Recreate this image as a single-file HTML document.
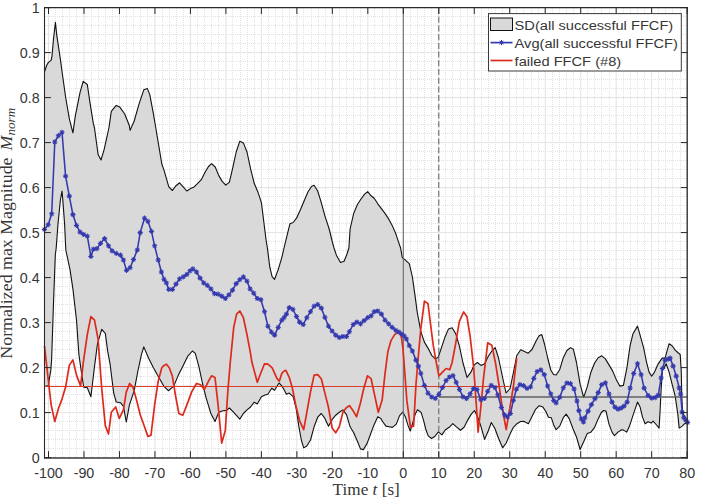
<!DOCTYPE html><html><head><meta charset="utf-8"><style>
html,body{margin:0;padding:0;background:#fff;width:709px;height:499px;overflow:hidden}
svg{display:block}
text{font-family:"Liberation Sans",sans-serif;fill:#363636}
.serif{font-family:"Liberation Serif",serif}
</style></head><body>
<svg width="709" height="499" viewBox="0 0 709 499">
<rect x="0" y="0" width="709" height="499" fill="#fff"/>
<path d="M55.50 8V457.6M62.50 8V457.6M69.50 8V457.6M76.50 8V457.6M91.50 8V457.6M98.50 8V457.6M105.50 8V457.6M112.50 8V457.6M126.50 8V457.6M133.50 8V457.6M140.50 8V457.6M147.50 8V457.6M162.50 8V457.6M169.50 8V457.6M176.50 8V457.6M183.50 8V457.6M197.50 8V457.6M204.50 8V457.6M211.50 8V457.6M218.50 8V457.6M232.50 8V457.6M240.50 8V457.6M247.50 8V457.6M254.50 8V457.6M268.50 8V457.6M275.50 8V457.6M282.50 8V457.6M289.50 8V457.6M303.50 8V457.6M311.50 8V457.6M318.50 8V457.6M325.50 8V457.6M339.50 8V457.6M346.50 8V457.6M353.50 8V457.6M360.50 8V457.6M374.50 8V457.6M382.50 8V457.6M389.50 8V457.6M396.50 8V457.6M410.50 8V457.6M417.50 8V457.6M424.50 8V457.6M431.50 8V457.6M445.50 8V457.6M452.50 8V457.6M460.50 8V457.6M467.50 8V457.6M481.50 8V457.6M488.50 8V457.6M495.50 8V457.6M502.50 8V457.6M516.50 8V457.6M523.50 8V457.6M531.50 8V457.6M538.50 8V457.6M552.50 8V457.6M559.50 8V457.6M566.50 8V457.6M573.50 8V457.6M587.50 8V457.6M594.50 8V457.6M601.50 8V457.6M609.50 8V457.6M623.50 8V457.6M630.50 8V457.6M637.50 8V457.6M644.50 8V457.6M658.50 8V457.6M665.50 8V457.6M672.50 8V457.6M680.50 8V457.6M45 448.50H687.2M45 439.50H687.2M45 430.50H687.2M45 421.50H687.2M45 403.50H687.2M45 394.50H687.2M45 385.50H687.2M45 376.50H687.2M45 358.50H687.2M45 349.50H687.2M45 340.50H687.2M45 331.50H687.2M45 313.50H687.2M45 304.50H687.2M45 295.50H687.2M45 286.50H687.2M45 268.50H687.2M45 259.50H687.2M45 250.50H687.2M45 241.50H687.2M45 223.50H687.2M45 214.50H687.2M45 205.50H687.2M45 196.50H687.2M45 178.50H687.2M45 169.50H687.2M45 160.50H687.2M45 151.50H687.2M45 133.50H687.2M45 124.50H687.2M45 115.50H687.2M45 106.50H687.2M45 88.50H687.2M45 79.50H687.2M45 70.50H687.2M45 61.50H687.2M45 43.50H687.2M45 34.50H687.2M45 25.50H687.2M45 16.50H687.2" stroke="#e2e2e2" stroke-width="1" stroke-dasharray="1 1" fill="none"/>
<path d="M48.50 7.6V457.6M83.98 7.6V457.6M119.46 7.6V457.6M154.94 7.6V457.6M190.42 7.6V457.6M225.90 7.6V457.6M261.38 7.6V457.6M296.86 7.6V457.6M332.34 7.6V457.6M367.82 7.6V457.6M403.30 7.6V457.6M438.78 7.6V457.6M474.26 7.6V457.6M509.74 7.6V457.6M545.22 7.6V457.6M580.70 7.6V457.6M616.18 7.6V457.6M651.66 7.6V457.6M687.14 7.6V457.6M44.5 457.60H687.2M44.5 412.60H687.2M44.5 367.60H687.2M44.5 322.60H687.2M44.5 277.60H687.2M44.5 232.60H687.2M44.5 187.60H687.2M44.5 142.60H687.2M44.5 97.60H687.2M44.5 52.60H687.2M44.5 7.60H687.2" stroke="#e3e3e3" stroke-width="1" fill="none"/>
<polygon points="44.6,71.5 46.6,65.5 48.4,62.4 51.1,60.4 52.0,55.8 53.5,39.0 55.4,22.4 56.8,35.4 58.6,47.4 60.4,59.4 62.2,72.7 65.6,97.0 69.3,118.6 72.9,132.8 75.3,116.2 80.1,92.2 83.2,81.4 87.3,84.5 90.2,104.2 93.3,123.4 94.5,128.0 98.1,154.5 101.0,160.0 104.1,149.6 108.9,128.0 111.3,111.4 116.2,105.4 119.8,107.1 124.6,113.8 129.4,125.8 130.1,130.4 134.2,121.0 139.0,104.2 143.8,89.8 147.4,88.6 149.8,94.6 153.4,113.8 155.8,128.0 159.0,147.2 161.8,164.0 164.0,170.1 168.8,186.9 172.4,190.5 176.0,185.7 179.6,182.8 183.2,186.9 186.8,191.0 190.5,188.6 194.1,186.9 197.7,183.3 201.3,179.7 204.9,172.5 208.5,166.5 211.6,163.6 215.2,167.0 218.8,175.6 222.2,181.4 225.8,185.2 229.4,182.1 232.5,168.9 236.2,152.0 239.8,141.2 243.4,142.9 247.0,152.0 250.6,168.9 254.2,183.3 257.8,191.7 261.4,202.6 263.8,221.8 266.2,241.0 267.4,248.0 269.8,267.2 272.2,276.9 274.6,279.3 278.2,269.6 281.8,257.6 284.0,248.0 286.9,236.2 290.0,223.7 293.1,222.5 296.5,218.2 300.4,209.8 304.4,200.2 308.0,191.7 311.7,186.2 314.1,185.2 317.7,191.0 321.3,202.6 324.9,215.8 329.2,229.0 332.1,241.0 334.0,248.0 336.4,255.2 340.5,262.4 344.1,261.2 347.0,254.0 348.9,248.0 350.1,229.0 353.7,213.4 357.4,204.5 361.0,199.0 364.6,194.1 367.7,191.7 371.1,195.8 374.2,198.2 377.8,203.8 381.4,208.6 385.0,213.4 388.6,218.9 392.2,225.4 395.8,233.8 399.0,243.4 400.6,248.0 402.3,257.6 404.0,258.9 409.3,263.7 412.4,277.0 414.8,293.8 417.2,312.0 420.8,331.3 424.4,342.1 428.0,348.1 431.7,355.3 435.3,358.9 438.2,357.2 441.3,348.1 444.9,337.3 448.5,328.9 452.1,327.7 455.7,333.7 459.3,345.7 462.9,362.5 467.0,377.4 470.9,372.2 474.2,364.9 477.4,362.5 481.0,365.4 484.6,363.7 488.2,356.5 491.8,351.0 495.2,347.6 498.4,357.5 502.4,376.5 506.0,393.0 510.1,388.5 513.4,372.5 516.8,355.5 520.7,349.8 524.5,351.5 528.2,353.2 532.0,349.5 535.8,341.5 539.1,335.8 541.8,334.6 544.5,344.0 547.8,358.5 550.8,370.0 553.5,374.5 556.1,375.0 559.7,369.7 563.3,357.7 566.9,350.5 570.5,347.6 573.4,349.3 576.5,362.5 580.1,384.2 583.7,397.4 587.3,386.6 590.9,372.2 594.6,363.0 598.2,357.7 601.8,355.8 605.4,358.9 609.0,364.9 612.6,370.9 616.2,379.4 619.8,386.1 623.4,385.4 627.0,367.3 630.1,345.7 633.0,333.7 637.5,326.1 640.1,335.1 643.7,348.1 646.5,362.1 649.1,372.1 651.7,376.2 654.5,372.1 658.1,364.1 662.1,358.1 665.1,358.1 666.7,352.1 669.1,343.7 672.1,345.7 675.2,350.1 677.8,352.5 680.2,354.5 681.2,370.1 681.8,396.0 682.5,412.0 687.2,422.5 687.2,422.5 684.2,424.1 682.2,426.1 679.2,428.1 677.8,414.1 675.2,396.1 672.1,384.2 669.1,372.1 666.1,363.7 664.1,368.1 662.5,370.0 661.1,390.0 660.1,410.1 659.1,428.1 656.1,424.5 653.1,421.1 651.1,423.1 648.1,421.7 645.1,423.7 642.5,417.1 640.1,407.1 637.5,402.1 635.1,409.1 632.1,418.1 629.1,427.1 626.7,432.1 623.6,430.1 621.6,429.7 618.0,432.1 614.4,435.7 612.0,432.1 609.0,424.1 606.0,411.1 603.5,410.5 601.0,413.0 598.2,418.9 594.6,427.3 590.9,432.2 587.3,433.4 583.7,441.8 580.1,449.5 576.5,437.0 572.9,428.5 569.3,418.9 566.2,414.1 563.3,417.7 559.7,426.1 556.1,429.7 553.7,424.9 551.3,417.7 548.4,417.2 546.0,411.7 542.8,406.9 539.2,405.7 535.6,409.3 532.0,416.5 528.4,423.7 523.6,421.3 520.6,421.5 517.0,423.7 513.4,427.3 509.8,434.6 506.2,443.0 502.6,447.8 498.5,438.2 494.9,428.5 491.3,422.5 488.2,431.0 484.6,439.4 480.5,424.9 477.4,416.5 474.5,410.5 471.3,414.1 467.7,420.1 464.1,427.3 460.5,430.2 456.4,426.9 452.8,423.7 449.2,427.3 445.2,430.0 441.9,434.9 438.4,431.9 434.8,436.5 431.5,438.5 428.2,435.9 425.6,428.7 423.7,420.9 421.1,412.4 417.5,409.8 415.2,414.3 412.6,423.5 410.2,431.0 408.0,425.4 405.4,416.9 402.8,412.1 399.6,415.6 396.3,424.1 392.4,427.4 389.1,426.7 385.9,426.1 382.6,421.5 380.7,418.4 377.8,416.7 374.2,424.4 370.6,434.0 367.0,443.6 363.4,449.6 360.5,448.9 357.4,441.2 353.7,432.8 350.1,426.8 346.5,414.7 342.9,409.9 339.3,412.3 335.7,415.2 332.1,419.6 328.5,426.3 324.9,418.4 321.3,413.5 317.7,417.2 314.1,426.8 310.5,440.0 306.8,446.0 303.7,447.9 301.3,440.0 298.9,426.8 296.0,407.5 293.1,396.7 289.3,393.1 286.4,394.3 284.0,389.5 281.8,385.9 279.0,383.0 274.6,390.2 271.7,388.3 267.9,394.3 265.0,395.0 261.4,396.7 257.3,403.9 254.2,402.2 250.6,407.0 247.0,409.9 243.4,413.5 239.8,419.1 233.7,412.3 229.4,408.0 226.5,410.4 222.9,410.7 218.8,412.3 215.0,421.5 210.9,413.5 206.1,397.9 202.5,383.5 198.9,366.6 195.3,353.4 192.4,351.0 188.0,355.8 183.2,365.4 178.4,375.1 173.6,386.4 168.3,390.7 164.0,386.4 158.2,376.3 153.4,367.8 148.6,358.2 143.8,346.9 141.4,354.6 137.8,371.5 134.2,390.7 129.4,405.1 126.3,422.0 123.4,406.3 120.5,402.7 116.2,402.0 113.7,393.1 110.1,364.2 107.7,351.4 105.3,333.4 101.7,329.3 97.4,344.2 94.5,366.6 90.9,396.7 87.3,387.8 83.7,387.1 81.3,371.5 78.9,354.6 76.5,320.0 72.9,288.9 70.0,269.6 65.8,250.0 64.6,224.0 62.8,200.0 62.0,191.0 60.4,200.0 58.0,224.0 56.2,248.0 55.3,255.0 53.6,300.0 51.6,360.0 50.8,370.4 49.2,380.0 48.4,385.6 44.6,386.5" fill="#d9d9d9" stroke="none"/>
<polyline points="44.6,71.5 46.6,65.5 48.4,62.4 51.1,60.4 52.0,55.8 53.5,39.0 55.4,22.4 56.8,35.4 58.6,47.4 60.4,59.4 62.2,72.7 65.6,97.0 69.3,118.6 72.9,132.8 75.3,116.2 80.1,92.2 83.2,81.4 87.3,84.5 90.2,104.2 93.3,123.4 94.5,128.0 98.1,154.5 101.0,160.0 104.1,149.6 108.9,128.0 111.3,111.4 116.2,105.4 119.8,107.1 124.6,113.8 129.4,125.8 130.1,130.4 134.2,121.0 139.0,104.2 143.8,89.8 147.4,88.6 149.8,94.6 153.4,113.8 155.8,128.0 159.0,147.2 161.8,164.0 164.0,170.1 168.8,186.9 172.4,190.5 176.0,185.7 179.6,182.8 183.2,186.9 186.8,191.0 190.5,188.6 194.1,186.9 197.7,183.3 201.3,179.7 204.9,172.5 208.5,166.5 211.6,163.6 215.2,167.0 218.8,175.6 222.2,181.4 225.8,185.2 229.4,182.1 232.5,168.9 236.2,152.0 239.8,141.2 243.4,142.9 247.0,152.0 250.6,168.9 254.2,183.3 257.8,191.7 261.4,202.6 263.8,221.8 266.2,241.0 267.4,248.0 269.8,267.2 272.2,276.9 274.6,279.3 278.2,269.6 281.8,257.6 284.0,248.0 286.9,236.2 290.0,223.7 293.1,222.5 296.5,218.2 300.4,209.8 304.4,200.2 308.0,191.7 311.7,186.2 314.1,185.2 317.7,191.0 321.3,202.6 324.9,215.8 329.2,229.0 332.1,241.0 334.0,248.0 336.4,255.2 340.5,262.4 344.1,261.2 347.0,254.0 348.9,248.0 350.1,229.0 353.7,213.4 357.4,204.5 361.0,199.0 364.6,194.1 367.7,191.7 371.1,195.8 374.2,198.2 377.8,203.8 381.4,208.6 385.0,213.4 388.6,218.9 392.2,225.4 395.8,233.8 399.0,243.4 400.6,248.0 402.3,257.6 404.0,258.9 409.3,263.7 412.4,277.0 414.8,293.8 417.2,312.0 420.8,331.3 424.4,342.1 428.0,348.1 431.7,355.3 435.3,358.9 438.2,357.2 441.3,348.1 444.9,337.3 448.5,328.9 452.1,327.7 455.7,333.7 459.3,345.7 462.9,362.5 467.0,377.4 470.9,372.2 474.2,364.9 477.4,362.5 481.0,365.4 484.6,363.7 488.2,356.5 491.8,351.0 495.2,347.6 498.4,357.5 502.4,376.5 506.0,393.0 510.1,388.5 513.4,372.5 516.8,355.5 520.7,349.8 524.5,351.5 528.2,353.2 532.0,349.5 535.8,341.5 539.1,335.8 541.8,334.6 544.5,344.0 547.8,358.5 550.8,370.0 553.5,374.5 556.1,375.0 559.7,369.7 563.3,357.7 566.9,350.5 570.5,347.6 573.4,349.3 576.5,362.5 580.1,384.2 583.7,397.4 587.3,386.6 590.9,372.2 594.6,363.0 598.2,357.7 601.8,355.8 605.4,358.9 609.0,364.9 612.6,370.9 616.2,379.4 619.8,386.1 623.4,385.4 627.0,367.3 630.1,345.7 633.0,333.7 637.5,326.1 640.1,335.1 643.7,348.1 646.5,362.1 649.1,372.1 651.7,376.2 654.5,372.1 658.1,364.1 662.1,358.1 665.1,358.1 666.7,352.1 669.1,343.7 672.1,345.7 675.2,350.1 677.8,352.5 680.2,354.5 681.2,370.1 681.8,396.0 682.5,412.0 687.2,422.5" fill="none" stroke="#111" stroke-width="1.1" stroke-linejoin="round"/>
<polyline points="44.6,386.5 48.4,385.6 49.2,380.0 50.8,370.4 51.6,360.0 53.6,300.0 55.3,255.0 56.2,248.0 58.0,224.0 60.4,200.0 62.0,191.0 62.8,200.0 64.6,224.0 65.8,250.0 70.0,269.6 72.9,288.9 76.5,320.0 78.9,354.6 81.3,371.5 83.7,387.1 87.3,387.8 90.9,396.7 94.5,366.6 97.4,344.2 101.7,329.3 105.3,333.4 107.7,351.4 110.1,364.2 113.7,393.1 116.2,402.0 120.5,402.7 123.4,406.3 126.3,422.0 129.4,405.1 134.2,390.7 137.8,371.5 141.4,354.6 143.8,346.9 148.6,358.2 153.4,367.8 158.2,376.3 164.0,386.4 168.3,390.7 173.6,386.4 178.4,375.1 183.2,365.4 188.0,355.8 192.4,351.0 195.3,353.4 198.9,366.6 202.5,383.5 206.1,397.9 210.9,413.5 215.0,421.5 218.8,412.3 222.9,410.7 226.5,410.4 229.4,408.0 233.7,412.3 239.8,419.1 243.4,413.5 247.0,409.9 250.6,407.0 254.2,402.2 257.3,403.9 261.4,396.7 265.0,395.0 267.9,394.3 271.7,388.3 274.6,390.2 279.0,383.0 281.8,385.9 284.0,389.5 286.4,394.3 289.3,393.1 293.1,396.7 296.0,407.5 298.9,426.8 301.3,440.0 303.7,447.9 306.8,446.0 310.5,440.0 314.1,426.8 317.7,417.2 321.3,413.5 324.9,418.4 328.5,426.3 332.1,419.6 335.7,415.2 339.3,412.3 342.9,409.9 346.5,414.7 350.1,426.8 353.7,432.8 357.4,441.2 360.5,448.9 363.4,449.6 367.0,443.6 370.6,434.0 374.2,424.4 377.8,416.7 380.7,418.4 382.6,421.5 385.9,426.1 389.1,426.7 392.4,427.4 396.3,424.1 399.6,415.6 402.8,412.1 405.4,416.9 408.0,425.4 410.2,431.0 412.6,423.5 415.2,414.3 417.5,409.8 421.1,412.4 423.7,420.9 425.6,428.7 428.2,435.9 431.5,438.5 434.8,436.5 438.4,431.9 441.9,434.9 445.2,430.0 449.2,427.3 452.8,423.7 456.4,426.9 460.5,430.2 464.1,427.3 467.7,420.1 471.3,414.1 474.5,410.5 477.4,416.5 480.5,424.9 484.6,439.4 488.2,431.0 491.3,422.5 494.9,428.5 498.5,438.2 502.6,447.8 506.2,443.0 509.8,434.6 513.4,427.3 517.0,423.7 520.6,421.5 523.6,421.3 528.4,423.7 532.0,416.5 535.6,409.3 539.2,405.7 542.8,406.9 546.0,411.7 548.4,417.2 551.3,417.7 553.7,424.9 556.1,429.7 559.7,426.1 563.3,417.7 566.2,414.1 569.3,418.9 572.9,428.5 576.5,437.0 580.1,449.5 583.7,441.8 587.3,433.4 590.9,432.2 594.6,427.3 598.2,418.9 601.0,413.0 603.5,410.5 606.0,411.1 609.0,424.1 612.0,432.1 614.4,435.7 618.0,432.1 621.6,429.7 623.6,430.1 626.7,432.1 629.1,427.1 632.1,418.1 635.1,409.1 637.5,402.1 640.1,407.1 642.5,417.1 645.1,423.7 648.1,421.7 651.1,423.1 653.1,421.1 656.1,424.5 659.1,428.1 660.1,410.1 661.1,390.0 662.5,370.0 664.1,368.1 666.1,363.7 669.1,372.1 672.1,384.2 675.2,396.1 677.8,414.1 679.2,428.1 682.2,426.1 684.2,424.1 687.2,422.5" fill="none" stroke="#111" stroke-width="1.1" stroke-linejoin="round"/>
<line x1="403.30" y1="7.6" x2="403.30" y2="457.6" stroke="#6a6a6a" stroke-width="1.1"/>
<line x1="438.78" y1="8.1" x2="438.78" y2="457.6" stroke="#666" stroke-width="1.05" stroke-dasharray="6 2.7"/>
<line x1="44.95" y1="386.5" x2="509.74" y2="386.5" stroke="#dc3a2a" stroke-width="1.1"/>
<line x1="438.78" y1="397" x2="687.14" y2="397" stroke="#606060" stroke-width="1.6"/>
<polyline points="44.5,346.0 47.6,373.9 51.2,405.1 54.8,421.5 58.4,408.7 62.0,399.1 65.6,387.1 69.3,365.4 72.9,359.9 76.5,375.1 80.6,385.9 83.7,359.4 87.3,334.6 90.9,316.5 94.5,320.2 98.1,339.4 101.7,388.3 105.3,425.6 108.5,434.0 111.3,412.3 115.7,407.0 119.3,418.4 123.4,409.9 126.3,391.9 129.6,383.5 133.0,387.1 136.6,400.3 140.2,414.7 144.5,426.8 147.9,436.4 151.0,435.2 154.6,405.1 158.2,381.1 161.8,367.8 164.0,365.4 166.4,364.2 169.3,367.8 172.4,376.3 175.5,395.5 178.9,413.5 182.8,415.2 186.8,405.1 191.7,391.9 196.5,383.5 200.6,384.7 204.4,389.5 208.5,381.1 211.6,375.8 215.0,377.5 218.1,405.1 221.7,443.1 225.3,430.4 227.7,393.1 230.1,364.2 233.7,327.4 236.6,314.1 239.8,311.0 243.4,317.7 247.0,334.6 250.6,353.8 251.8,361.8 257.3,382.3 261.4,371.5 264.5,363.8 267.9,364.2 272.2,367.8 277.0,378.7 279.4,381.1 281.8,373.4 284.0,371.0 285.9,370.3 289.3,377.5 292.4,388.3 296.0,406.3 299.6,420.8 303.7,429.7 306.8,412.3 310.5,391.9 314.1,375.1 317.7,374.6 321.3,378.7 324.9,393.1 328.5,407.5 332.1,428.0 335.7,432.8 339.3,426.8 342.9,412.3 346.1,408.0 349.4,405.6 353.3,411.1 356.6,416.7 360.5,402.7 363.8,388.3 367.5,375.8 371.1,378.7 374.2,393.1 378.3,412.3 382.1,400.3 385.0,373.9 387.9,351.4 391.0,340.6 394.6,334.6 399.0,331.7 401.4,337.0 403.0,349.0 404.0,362.0 406.9,400.9 410.5,427.3 413.6,426.1 416.0,384.0 418.0,360.0 420.8,328.9 424.4,301.2 428.0,303.6 430.5,324.0 433.3,345.7 436.5,363.7 438.9,375.8 442.5,372.2 446.1,368.5 449.7,369.7 452.1,362.5 455.7,343.3 459.3,321.6 463.6,312.0 467.0,316.8 470.1,336.1 473.7,368.0 476.2,403.3 478.1,432.2 480.5,410.5 483.4,379.3 487.7,342.8 491.8,345.2 495.4,362.5 499.0,385.0 502.6,410.0 506.2,429.7 509.8,408.1 513.4,386.5 516.7,358.2" fill="none" stroke="#dc2a1c" stroke-width="1.7" stroke-linejoin="round"/>
<polyline points="44.4,229.4 48.2,224.7 51.7,213.8 54.8,142.0 58.4,135.7 62.0,132.3 65.6,176.1 69.3,196.1 72.9,214.6 76.5,225.4 80.1,232.1 83.7,234.5 87.3,236.2 90.9,256.4 93.3,249.2 96.9,248.7 100.5,243.4 104.6,238.6 108.5,245.8 112.1,250.9 116.2,253.3 120.5,255.2 123.4,260.0 126.5,270.4 130.1,267.7 133.5,259.5 137.3,249.9 140.2,232.6 144.5,218.2 147.9,221.3 151.5,231.4 154.6,245.8 158.2,260.0 161.4,272.0 164.0,279.3 166.4,282.9 168.8,289.4 172.4,289.4 176.0,284.1 179.6,278.8 183.2,276.9 186.8,274.5 190.0,270.8 192.9,268.9 196.5,272.0 200.1,278.1 203.7,282.9 207.3,285.3 210.9,288.9 214.5,293.7 218.1,294.2 221.7,296.1 225.3,298.5 228.9,294.9 232.5,290.1 236.2,283.6 239.8,279.7 243.4,276.9 247.0,281.2 250.1,288.9 253.7,293.2 257.3,298.5 260.9,299.7 264.5,311.7 267.9,326.2 271.5,332.2 274.6,335.1 278.2,327.4 281.8,320.2 284.0,317.7 286.4,314.1 289.3,307.6 292.9,309.3 296.5,316.5 299.6,322.1 303.2,324.5 306.8,317.7 310.5,311.7 314.1,306.2 317.7,304.5 321.3,308.1 324.9,317.3 328.5,326.2 332.1,331.0 335.7,335.1 339.3,337.5 342.9,336.5 346.5,336.5 349.4,331.7 353.3,324.5 356.9,322.1 360.5,323.8 364.1,320.6 367.7,317.7 371.1,315.8 374.2,311.7 377.8,311.0 381.4,314.1 385.0,320.2 388.6,323.8 392.2,327.4 395.8,330.3 399.0,332.2 401.8,334.1 404.0,335.8 406.4,339.0 409.3,345.7 412.4,351.0 416.0,360.1 418.4,366.1 420.8,373.3 424.4,385.4 428.0,393.2 431.7,397.0 435.3,398.3 438.9,394.5 442.5,387.5 446.1,380.5 449.5,377.0 453.0,375.7 456.2,382.3 459.5,389.5 463.0,396.8 466.5,398.5 470.1,393.8 473.5,388.5 477.0,389.5 480.8,399.7 484.4,398.5 487.7,391.3 491.2,385.3 494.9,387.5 497.8,394.8 501.4,407.5 504.5,414.8 507.4,417.0 510.4,413.5 513.4,400.3 516.4,389.2 519.9,384.7 523.5,385.6 527.0,388.4 530.5,386.9 533.8,378.4 537.2,371.5 540.8,369.9 544.3,374.6 547.6,386.0 550.8,393.8 553.7,400.5 556.1,402.9 559.7,397.4 563.3,387.8 566.9,383.0 570.5,383.7 574.1,389.0 577.0,401.0 578.9,410.6 581.3,419.0 583.5,422.0 584.9,417.8 588.1,411.1 591.4,404.6 595.0,398.6 598.2,392.6 601.8,384.6 605.4,382.8 609.0,394.0 612.0,402.1 615.0,407.1 618.0,409.1 621.0,408.1 624.0,406.1 627.1,402.1 630.1,388.0 633.7,373.5 637.5,363.7 641.1,374.7 644.1,388.1 648.1,395.5 651.7,398.1 655.1,397.7 658.3,395.1 661.1,378.0 662.5,368.5 665.1,360.1 668.1,359.1 670.1,358.1 673.1,366.1 676.2,376.1 679.2,388.0 680.6,394.0 682.2,412.1 683.8,417.7 685.8,420.1 687.6,422.5" fill="none" stroke="#3439ae" stroke-width="1.55" stroke-linejoin="round"/>
<path d="M41.8 229.4h5.2M44.4 226.8v5.2M42.6 227.6l3.6 3.6M42.6 231.2l3.6 -3.6M45.6 224.7h5.2M48.2 222.1v5.2M46.4 222.9l3.6 3.6M46.4 226.5l3.6 -3.6M49.1 213.8h5.2M51.7 211.2v5.2M49.9 212.0l3.6 3.6M49.9 215.6l3.6 -3.6M52.2 142.0h5.2M54.8 139.4v5.2M53.0 140.2l3.6 3.6M53.0 143.8l3.6 -3.6M55.8 135.7h5.2M58.4 133.1v5.2M56.6 133.9l3.6 3.6M56.6 137.5l3.6 -3.6M59.4 132.3h5.2M62.0 129.7v5.2M60.2 130.5l3.6 3.6M60.2 134.1l3.6 -3.6M63.0 176.1h5.2M65.6 173.5v5.2M63.8 174.3l3.6 3.6M63.8 177.9l3.6 -3.6M66.7 196.1h5.2M69.3 193.5v5.2M67.5 194.3l3.6 3.6M67.5 197.9l3.6 -3.6M70.3 214.6h5.2M72.9 212.0v5.2M71.1 212.8l3.6 3.6M71.1 216.4l3.6 -3.6M73.9 225.4h5.2M76.5 222.8v5.2M74.7 223.6l3.6 3.6M74.7 227.2l3.6 -3.6M77.5 232.1h5.2M80.1 229.5v5.2M78.3 230.3l3.6 3.6M78.3 233.9l3.6 -3.6M81.1 234.5h5.2M83.7 231.9v5.2M81.9 232.7l3.6 3.6M81.9 236.3l3.6 -3.6M84.7 236.2h5.2M87.3 233.6v5.2M85.5 234.4l3.6 3.6M85.5 238.0l3.6 -3.6M88.3 256.4h5.2M90.9 253.8v5.2M89.1 254.6l3.6 3.6M89.1 258.2l3.6 -3.6M90.7 249.2h5.2M93.3 246.6v5.2M91.5 247.4l3.6 3.6M91.5 251.0l3.6 -3.6M94.3 248.7h5.2M96.9 246.1v5.2M95.1 246.9l3.6 3.6M95.1 250.5l3.6 -3.6M97.9 243.4h5.2M100.5 240.8v5.2M98.7 241.6l3.6 3.6M98.7 245.2l3.6 -3.6M102.0 238.6h5.2M104.6 236.0v5.2M102.8 236.8l3.6 3.6M102.8 240.4l3.6 -3.6M105.9 245.8h5.2M108.5 243.2v5.2M106.7 244.0l3.6 3.6M106.7 247.6l3.6 -3.6M109.5 250.9h5.2M112.1 248.3v5.2M110.3 249.1l3.6 3.6M110.3 252.7l3.6 -3.6M113.6 253.3h5.2M116.2 250.7v5.2M114.4 251.5l3.6 3.6M114.4 255.1l3.6 -3.6M117.9 255.2h5.2M120.5 252.6v5.2M118.7 253.4l3.6 3.6M118.7 257.0l3.6 -3.6M120.8 260.0h5.2M123.4 257.4v5.2M121.6 258.2l3.6 3.6M121.6 261.8l3.6 -3.6M123.9 270.4h5.2M126.5 267.8v5.2M124.7 268.6l3.6 3.6M124.7 272.2l3.6 -3.6M127.5 267.7h5.2M130.1 265.1v5.2M128.3 265.9l3.6 3.6M128.3 269.5l3.6 -3.6M130.9 259.5h5.2M133.5 256.9v5.2M131.7 257.7l3.6 3.6M131.7 261.3l3.6 -3.6M134.7 249.9h5.2M137.3 247.3v5.2M135.5 248.1l3.6 3.6M135.5 251.7l3.6 -3.6M137.6 232.6h5.2M140.2 230.0v5.2M138.4 230.8l3.6 3.6M138.4 234.4l3.6 -3.6M141.9 218.2h5.2M144.5 215.6v5.2M142.7 216.4l3.6 3.6M142.7 220.0l3.6 -3.6M145.3 221.3h5.2M147.9 218.7v5.2M146.1 219.5l3.6 3.6M146.1 223.1l3.6 -3.6M148.9 231.4h5.2M151.5 228.8v5.2M149.7 229.6l3.6 3.6M149.7 233.2l3.6 -3.6M152.0 245.8h5.2M154.6 243.2v5.2M152.8 244.0l3.6 3.6M152.8 247.6l3.6 -3.6M155.6 260.0h5.2M158.2 257.4v5.2M156.4 258.2l3.6 3.6M156.4 261.8l3.6 -3.6M158.8 272.0h5.2M161.4 269.4v5.2M159.6 270.2l3.6 3.6M159.6 273.8l3.6 -3.6M161.4 279.3h5.2M164.0 276.7v5.2M162.2 277.5l3.6 3.6M162.2 281.1l3.6 -3.6M163.8 282.9h5.2M166.4 280.3v5.2M164.6 281.1l3.6 3.6M164.6 284.7l3.6 -3.6M166.2 289.4h5.2M168.8 286.8v5.2M167.0 287.6l3.6 3.6M167.0 291.2l3.6 -3.6M169.8 289.4h5.2M172.4 286.8v5.2M170.6 287.6l3.6 3.6M170.6 291.2l3.6 -3.6M173.4 284.1h5.2M176.0 281.5v5.2M174.2 282.3l3.6 3.6M174.2 285.9l3.6 -3.6M177.0 278.8h5.2M179.6 276.2v5.2M177.8 277.0l3.6 3.6M177.8 280.6l3.6 -3.6M180.6 276.9h5.2M183.2 274.3v5.2M181.4 275.1l3.6 3.6M181.4 278.7l3.6 -3.6M184.2 274.5h5.2M186.8 271.9v5.2M185.0 272.7l3.6 3.6M185.0 276.3l3.6 -3.6M187.4 270.8h5.2M190.0 268.2v5.2M188.2 269.0l3.6 3.6M188.2 272.6l3.6 -3.6M190.3 268.9h5.2M192.9 266.3v5.2M191.1 267.1l3.6 3.6M191.1 270.7l3.6 -3.6M193.9 272.0h5.2M196.5 269.4v5.2M194.7 270.2l3.6 3.6M194.7 273.8l3.6 -3.6M197.5 278.1h5.2M200.1 275.5v5.2M198.3 276.3l3.6 3.6M198.3 279.9l3.6 -3.6M201.1 282.9h5.2M203.7 280.3v5.2M201.9 281.1l3.6 3.6M201.9 284.7l3.6 -3.6M204.7 285.3h5.2M207.3 282.7v5.2M205.5 283.5l3.6 3.6M205.5 287.1l3.6 -3.6M208.3 288.9h5.2M210.9 286.3v5.2M209.1 287.1l3.6 3.6M209.1 290.7l3.6 -3.6M211.9 293.7h5.2M214.5 291.1v5.2M212.7 291.9l3.6 3.6M212.7 295.5l3.6 -3.6M215.5 294.2h5.2M218.1 291.6v5.2M216.3 292.4l3.6 3.6M216.3 296.0l3.6 -3.6M219.1 296.1h5.2M221.7 293.5v5.2M219.9 294.3l3.6 3.6M219.9 297.9l3.6 -3.6M222.7 298.5h5.2M225.3 295.9v5.2M223.5 296.7l3.6 3.6M223.5 300.3l3.6 -3.6M226.3 294.9h5.2M228.9 292.3v5.2M227.1 293.1l3.6 3.6M227.1 296.7l3.6 -3.6M229.9 290.1h5.2M232.5 287.5v5.2M230.7 288.3l3.6 3.6M230.7 291.9l3.6 -3.6M233.6 283.6h5.2M236.2 281.0v5.2M234.4 281.8l3.6 3.6M234.4 285.4l3.6 -3.6M237.2 279.7h5.2M239.8 277.1v5.2M238.0 277.9l3.6 3.6M238.0 281.5l3.6 -3.6M240.8 276.9h5.2M243.4 274.3v5.2M241.6 275.1l3.6 3.6M241.6 278.7l3.6 -3.6M244.4 281.2h5.2M247.0 278.6v5.2M245.2 279.4l3.6 3.6M245.2 283.0l3.6 -3.6M247.5 288.9h5.2M250.1 286.3v5.2M248.3 287.1l3.6 3.6M248.3 290.7l3.6 -3.6M251.1 293.2h5.2M253.7 290.6v5.2M251.9 291.4l3.6 3.6M251.9 295.0l3.6 -3.6M254.7 298.5h5.2M257.3 295.9v5.2M255.5 296.7l3.6 3.6M255.5 300.3l3.6 -3.6M258.3 299.7h5.2M260.9 297.1v5.2M259.1 297.9l3.6 3.6M259.1 301.5l3.6 -3.6M261.9 311.7h5.2M264.5 309.1v5.2M262.7 309.9l3.6 3.6M262.7 313.5l3.6 -3.6M265.3 326.2h5.2M267.9 323.6v5.2M266.1 324.4l3.6 3.6M266.1 328.0l3.6 -3.6M268.9 332.2h5.2M271.5 329.6v5.2M269.7 330.4l3.6 3.6M269.7 334.0l3.6 -3.6M272.0 335.1h5.2M274.6 332.5v5.2M272.8 333.3l3.6 3.6M272.8 336.9l3.6 -3.6M275.6 327.4h5.2M278.2 324.8v5.2M276.4 325.6l3.6 3.6M276.4 329.2l3.6 -3.6M279.2 320.2h5.2M281.8 317.6v5.2M280.0 318.4l3.6 3.6M280.0 322.0l3.6 -3.6M281.4 317.7h5.2M284.0 315.1v5.2M282.2 315.9l3.6 3.6M282.2 319.5l3.6 -3.6M283.8 314.1h5.2M286.4 311.5v5.2M284.6 312.3l3.6 3.6M284.6 315.9l3.6 -3.6M286.7 307.6h5.2M289.3 305.0v5.2M287.5 305.8l3.6 3.6M287.5 309.4l3.6 -3.6M290.3 309.3h5.2M292.9 306.7v5.2M291.1 307.5l3.6 3.6M291.1 311.1l3.6 -3.6M293.9 316.5h5.2M296.5 313.9v5.2M294.7 314.7l3.6 3.6M294.7 318.3l3.6 -3.6M297.0 322.1h5.2M299.6 319.5v5.2M297.8 320.3l3.6 3.6M297.8 323.9l3.6 -3.6M300.6 324.5h5.2M303.2 321.9v5.2M301.4 322.7l3.6 3.6M301.4 326.3l3.6 -3.6M304.2 317.7h5.2M306.8 315.1v5.2M305.0 315.9l3.6 3.6M305.0 319.5l3.6 -3.6M307.9 311.7h5.2M310.5 309.1v5.2M308.7 309.9l3.6 3.6M308.7 313.5l3.6 -3.6M311.5 306.2h5.2M314.1 303.6v5.2M312.3 304.4l3.6 3.6M312.3 308.0l3.6 -3.6M315.1 304.5h5.2M317.7 301.9v5.2M315.9 302.7l3.6 3.6M315.9 306.3l3.6 -3.6M318.7 308.1h5.2M321.3 305.5v5.2M319.5 306.3l3.6 3.6M319.5 309.9l3.6 -3.6M322.3 317.3h5.2M324.9 314.7v5.2M323.1 315.5l3.6 3.6M323.1 319.1l3.6 -3.6M325.9 326.2h5.2M328.5 323.6v5.2M326.7 324.4l3.6 3.6M326.7 328.0l3.6 -3.6M329.5 331.0h5.2M332.1 328.4v5.2M330.3 329.2l3.6 3.6M330.3 332.8l3.6 -3.6M333.1 335.1h5.2M335.7 332.5v5.2M333.9 333.3l3.6 3.6M333.9 336.9l3.6 -3.6M336.7 337.5h5.2M339.3 334.9v5.2M337.5 335.7l3.6 3.6M337.5 339.3l3.6 -3.6M340.3 336.5h5.2M342.9 333.9v5.2M341.1 334.7l3.6 3.6M341.1 338.3l3.6 -3.6M343.9 336.5h5.2M346.5 333.9v5.2M344.7 334.7l3.6 3.6M344.7 338.3l3.6 -3.6M346.8 331.7h5.2M349.4 329.1v5.2M347.6 329.9l3.6 3.6M347.6 333.5l3.6 -3.6M350.7 324.5h5.2M353.3 321.9v5.2M351.5 322.7l3.6 3.6M351.5 326.3l3.6 -3.6M354.3 322.1h5.2M356.9 319.5v5.2M355.1 320.3l3.6 3.6M355.1 323.9l3.6 -3.6M357.9 323.8h5.2M360.5 321.2v5.2M358.7 322.0l3.6 3.6M358.7 325.6l3.6 -3.6M361.5 320.6h5.2M364.1 318.0v5.2M362.3 318.8l3.6 3.6M362.3 322.4l3.6 -3.6M365.1 317.7h5.2M367.7 315.1v5.2M365.9 315.9l3.6 3.6M365.9 319.5l3.6 -3.6M368.5 315.8h5.2M371.1 313.2v5.2M369.3 314.0l3.6 3.6M369.3 317.6l3.6 -3.6M371.6 311.7h5.2M374.2 309.1v5.2M372.4 309.9l3.6 3.6M372.4 313.5l3.6 -3.6M375.2 311.0h5.2M377.8 308.4v5.2M376.0 309.2l3.6 3.6M376.0 312.8l3.6 -3.6M378.8 314.1h5.2M381.4 311.5v5.2M379.6 312.3l3.6 3.6M379.6 315.9l3.6 -3.6M382.4 320.2h5.2M385.0 317.6v5.2M383.2 318.4l3.6 3.6M383.2 322.0l3.6 -3.6M386.0 323.8h5.2M388.6 321.2v5.2M386.8 322.0l3.6 3.6M386.8 325.6l3.6 -3.6M389.6 327.4h5.2M392.2 324.8v5.2M390.4 325.6l3.6 3.6M390.4 329.2l3.6 -3.6M393.2 330.3h5.2M395.8 327.7v5.2M394.0 328.5l3.6 3.6M394.0 332.1l3.6 -3.6M396.4 332.2h5.2M399.0 329.6v5.2M397.2 330.4l3.6 3.6M397.2 334.0l3.6 -3.6M399.2 334.1h5.2M401.8 331.5v5.2M400.0 332.3l3.6 3.6M400.0 335.9l3.6 -3.6M401.4 335.8h5.2M404.0 333.2v5.2M402.2 334.0l3.6 3.6M402.2 337.6l3.6 -3.6M403.8 339.0h5.2M406.4 336.4v5.2M404.6 337.2l3.6 3.6M404.6 340.8l3.6 -3.6M406.7 345.7h5.2M409.3 343.1v5.2M407.5 343.9l3.6 3.6M407.5 347.5l3.6 -3.6M409.8 351.0h5.2M412.4 348.4v5.2M410.6 349.2l3.6 3.6M410.6 352.8l3.6 -3.6M413.4 360.1h5.2M416.0 357.5v5.2M414.2 358.3l3.6 3.6M414.2 361.9l3.6 -3.6M415.8 366.1h5.2M418.4 363.5v5.2M416.6 364.3l3.6 3.6M416.6 367.9l3.6 -3.6M418.2 373.3h5.2M420.8 370.7v5.2M419.0 371.5l3.6 3.6M419.0 375.1l3.6 -3.6M421.8 385.4h5.2M424.4 382.8v5.2M422.6 383.6l3.6 3.6M422.6 387.2l3.6 -3.6M425.4 393.2h5.2M428.0 390.6v5.2M426.2 391.4l3.6 3.6M426.2 395.0l3.6 -3.6M429.1 397.0h5.2M431.7 394.4v5.2M429.9 395.2l3.6 3.6M429.9 398.8l3.6 -3.6M432.7 398.3h5.2M435.3 395.7v5.2M433.5 396.5l3.6 3.6M433.5 400.1l3.6 -3.6M436.3 394.5h5.2M438.9 391.9v5.2M437.1 392.7l3.6 3.6M437.1 396.3l3.6 -3.6M439.9 387.5h5.2M442.5 384.9v5.2M440.7 385.7l3.6 3.6M440.7 389.3l3.6 -3.6M443.5 380.5h5.2M446.1 377.9v5.2M444.3 378.7l3.6 3.6M444.3 382.3l3.6 -3.6M446.9 377.0h5.2M449.5 374.4v5.2M447.7 375.2l3.6 3.6M447.7 378.8l3.6 -3.6M450.4 375.7h5.2M453.0 373.1v5.2M451.2 373.9l3.6 3.6M451.2 377.5l3.6 -3.6M453.6 382.3h5.2M456.2 379.7v5.2M454.4 380.5l3.6 3.6M454.4 384.1l3.6 -3.6M456.9 389.5h5.2M459.5 386.9v5.2M457.7 387.7l3.6 3.6M457.7 391.3l3.6 -3.6M460.4 396.8h5.2M463.0 394.2v5.2M461.2 395.0l3.6 3.6M461.2 398.6l3.6 -3.6M463.9 398.5h5.2M466.5 395.9v5.2M464.7 396.7l3.6 3.6M464.7 400.3l3.6 -3.6M467.5 393.8h5.2M470.1 391.2v5.2M468.3 392.0l3.6 3.6M468.3 395.6l3.6 -3.6M470.9 388.5h5.2M473.5 385.9v5.2M471.7 386.7l3.6 3.6M471.7 390.3l3.6 -3.6M474.4 389.5h5.2M477.0 386.9v5.2M475.2 387.7l3.6 3.6M475.2 391.3l3.6 -3.6M478.2 399.7h5.2M480.8 397.1v5.2M479.0 397.9l3.6 3.6M479.0 401.5l3.6 -3.6M481.8 398.5h5.2M484.4 395.9v5.2M482.6 396.7l3.6 3.6M482.6 400.3l3.6 -3.6M485.1 391.3h5.2M487.7 388.7v5.2M485.9 389.5l3.6 3.6M485.9 393.1l3.6 -3.6M488.6 385.3h5.2M491.2 382.7v5.2M489.4 383.5l3.6 3.6M489.4 387.1l3.6 -3.6M492.3 387.5h5.2M494.9 384.9v5.2M493.1 385.7l3.6 3.6M493.1 389.3l3.6 -3.6M495.2 394.8h5.2M497.8 392.2v5.2M496.0 393.0l3.6 3.6M496.0 396.6l3.6 -3.6M498.8 407.5h5.2M501.4 404.9v5.2M499.6 405.7l3.6 3.6M499.6 409.3l3.6 -3.6M501.9 414.8h5.2M504.5 412.2v5.2M502.7 413.0l3.6 3.6M502.7 416.6l3.6 -3.6M504.8 417.0h5.2M507.4 414.4v5.2M505.6 415.2l3.6 3.6M505.6 418.8l3.6 -3.6M507.8 413.5h5.2M510.4 410.9v5.2M508.6 411.7l3.6 3.6M508.6 415.3l3.6 -3.6M510.8 400.3h5.2M513.4 397.7v5.2M511.6 398.5l3.6 3.6M511.6 402.1l3.6 -3.6M513.8 389.2h5.2M516.4 386.6v5.2M514.6 387.4l3.6 3.6M514.6 391.0l3.6 -3.6M517.3 384.7h5.2M519.9 382.1v5.2M518.1 382.9l3.6 3.6M518.1 386.5l3.6 -3.6M520.9 385.6h5.2M523.5 383.0v5.2M521.7 383.8l3.6 3.6M521.7 387.4l3.6 -3.6M524.4 388.4h5.2M527.0 385.8v5.2M525.2 386.6l3.6 3.6M525.2 390.2l3.6 -3.6M527.9 386.9h5.2M530.5 384.3v5.2M528.7 385.1l3.6 3.6M528.7 388.7l3.6 -3.6M531.2 378.4h5.2M533.8 375.8v5.2M532.0 376.6l3.6 3.6M532.0 380.2l3.6 -3.6M534.6 371.5h5.2M537.2 368.9v5.2M535.4 369.7l3.6 3.6M535.4 373.3l3.6 -3.6M538.2 369.9h5.2M540.8 367.3v5.2M539.0 368.1l3.6 3.6M539.0 371.7l3.6 -3.6M541.7 374.6h5.2M544.3 372.0v5.2M542.5 372.8l3.6 3.6M542.5 376.4l3.6 -3.6M545.0 386.0h5.2M547.6 383.4v5.2M545.8 384.2l3.6 3.6M545.8 387.8l3.6 -3.6M548.2 393.8h5.2M550.8 391.2v5.2M549.0 392.0l3.6 3.6M549.0 395.6l3.6 -3.6M551.1 400.5h5.2M553.7 397.9v5.2M551.9 398.7l3.6 3.6M551.9 402.3l3.6 -3.6M553.5 402.9h5.2M556.1 400.3v5.2M554.3 401.1l3.6 3.6M554.3 404.7l3.6 -3.6M557.1 397.4h5.2M559.7 394.8v5.2M557.9 395.6l3.6 3.6M557.9 399.2l3.6 -3.6M560.7 387.8h5.2M563.3 385.2v5.2M561.5 386.0l3.6 3.6M561.5 389.6l3.6 -3.6M564.3 383.0h5.2M566.9 380.4v5.2M565.1 381.2l3.6 3.6M565.1 384.8l3.6 -3.6M567.9 383.7h5.2M570.5 381.1v5.2M568.7 381.9l3.6 3.6M568.7 385.5l3.6 -3.6M571.5 389.0h5.2M574.1 386.4v5.2M572.3 387.2l3.6 3.6M572.3 390.8l3.6 -3.6M574.4 401.0h5.2M577.0 398.4v5.2M575.2 399.2l3.6 3.6M575.2 402.8l3.6 -3.6M576.3 410.6h5.2M578.9 408.0v5.2M577.1 408.8l3.6 3.6M577.1 412.4l3.6 -3.6M578.7 419.0h5.2M581.3 416.4v5.2M579.5 417.2l3.6 3.6M579.5 420.8l3.6 -3.6M580.9 422.0h5.2M583.5 419.4v5.2M581.7 420.2l3.6 3.6M581.7 423.8l3.6 -3.6M582.3 417.8h5.2M584.9 415.2v5.2M583.1 416.0l3.6 3.6M583.1 419.6l3.6 -3.6M585.5 411.1h5.2M588.1 408.5v5.2M586.3 409.3l3.6 3.6M586.3 412.9l3.6 -3.6M588.8 404.6h5.2M591.4 402.0v5.2M589.6 402.8l3.6 3.6M589.6 406.4l3.6 -3.6M592.4 398.6h5.2M595.0 396.0v5.2M593.2 396.8l3.6 3.6M593.2 400.4l3.6 -3.6M595.6 392.6h5.2M598.2 390.0v5.2M596.4 390.8l3.6 3.6M596.4 394.4l3.6 -3.6M599.2 384.6h5.2M601.8 382.0v5.2M600.0 382.8l3.6 3.6M600.0 386.4l3.6 -3.6M602.8 382.8h5.2M605.4 380.2v5.2M603.6 381.0l3.6 3.6M603.6 384.6l3.6 -3.6M606.4 394.0h5.2M609.0 391.4v5.2M607.2 392.2l3.6 3.6M607.2 395.8l3.6 -3.6M609.4 402.1h5.2M612.0 399.5v5.2M610.2 400.3l3.6 3.6M610.2 403.9l3.6 -3.6M612.4 407.1h5.2M615.0 404.5v5.2M613.2 405.3l3.6 3.6M613.2 408.9l3.6 -3.6M615.4 409.1h5.2M618.0 406.5v5.2M616.2 407.3l3.6 3.6M616.2 410.9l3.6 -3.6M618.4 408.1h5.2M621.0 405.5v5.2M619.2 406.3l3.6 3.6M619.2 409.9l3.6 -3.6M621.4 406.1h5.2M624.0 403.5v5.2M622.2 404.3l3.6 3.6M622.2 407.9l3.6 -3.6M624.5 402.1h5.2M627.1 399.5v5.2M625.3 400.3l3.6 3.6M625.3 403.9l3.6 -3.6M627.5 388.0h5.2M630.1 385.4v5.2M628.3 386.2l3.6 3.6M628.3 389.8l3.6 -3.6M631.1 373.5h5.2M633.7 370.9v5.2M631.9 371.7l3.6 3.6M631.9 375.3l3.6 -3.6M634.9 363.7h5.2M637.5 361.1v5.2M635.7 361.9l3.6 3.6M635.7 365.5l3.6 -3.6M638.5 374.7h5.2M641.1 372.1v5.2M639.3 372.9l3.6 3.6M639.3 376.5l3.6 -3.6M641.5 388.1h5.2M644.1 385.5v5.2M642.3 386.3l3.6 3.6M642.3 389.9l3.6 -3.6M645.5 395.5h5.2M648.1 392.9v5.2M646.3 393.7l3.6 3.6M646.3 397.3l3.6 -3.6M649.1 398.1h5.2M651.7 395.5v5.2M649.9 396.3l3.6 3.6M649.9 399.9l3.6 -3.6M652.5 397.7h5.2M655.1 395.1v5.2M653.3 395.9l3.6 3.6M653.3 399.5l3.6 -3.6M655.7 395.1h5.2M658.3 392.5v5.2M656.5 393.3l3.6 3.6M656.5 396.9l3.6 -3.6M658.5 378.0h5.2M661.1 375.4v5.2M659.3 376.2l3.6 3.6M659.3 379.8l3.6 -3.6M659.9 368.5h5.2M662.5 365.9v5.2M660.7 366.7l3.6 3.6M660.7 370.3l3.6 -3.6M662.5 360.1h5.2M665.1 357.5v5.2M663.3 358.3l3.6 3.6M663.3 361.9l3.6 -3.6M665.5 359.1h5.2M668.1 356.5v5.2M666.3 357.3l3.6 3.6M666.3 360.9l3.6 -3.6M667.5 358.1h5.2M670.1 355.5v5.2M668.3 356.3l3.6 3.6M668.3 359.9l3.6 -3.6M670.5 366.1h5.2M673.1 363.5v5.2M671.3 364.3l3.6 3.6M671.3 367.9l3.6 -3.6M673.6 376.1h5.2M676.2 373.5v5.2M674.4 374.3l3.6 3.6M674.4 377.9l3.6 -3.6M676.6 388.0h5.2M679.2 385.4v5.2M677.4 386.2l3.6 3.6M677.4 389.8l3.6 -3.6M678.0 394.0h5.2M680.6 391.4v5.2M678.8 392.2l3.6 3.6M678.8 395.8l3.6 -3.6M679.6 412.1h5.2M682.2 409.5v5.2M680.4 410.3l3.6 3.6M680.4 413.9l3.6 -3.6M681.2 417.7h5.2M683.8 415.1v5.2M682.0 415.9l3.6 3.6M682.0 419.5l3.6 -3.6M683.2 420.1h5.2M685.8 417.5v5.2M684.0 418.3l3.6 3.6M684.0 421.9l3.6 -3.6M685.0 422.5h5.2M687.6 419.9v5.2M685.8 420.7l3.6 3.6M685.8 424.3l3.6 -3.6" stroke="#3439ae" stroke-width="1.05" fill="none"/>
<path d="M44.0 7.6H687.8000000000001" stroke="#2a2a2a" stroke-width="1.1" fill="none"/>
<path d="M44.0 457.9H687.8000000000001" stroke="#3a3a3a" stroke-width="1.5" fill="none"/>
<path d="M44.5 7.6V458.6" stroke="#2a2a2a" stroke-width="1.1" fill="none"/>
<path d="M687.2 7.6V458.6" stroke="#2a2a2a" stroke-width="1.3" fill="none"/>
<path d="M48.50 457.6v-6.4M48.50 7.6v6.4M83.98 457.6v-6.4M83.98 7.6v6.4M119.46 457.6v-6.4M119.46 7.6v6.4M154.94 457.6v-6.4M154.94 7.6v6.4M190.42 457.6v-6.4M190.42 7.6v6.4M225.90 457.6v-6.4M225.90 7.6v6.4M261.38 457.6v-6.4M261.38 7.6v6.4M296.86 457.6v-6.4M296.86 7.6v6.4M332.34 457.6v-6.4M332.34 7.6v6.4M367.82 457.6v-6.4M367.82 7.6v6.4M403.30 457.6v-6.4M403.30 7.6v6.4M438.78 457.6v-6.4M438.78 7.6v6.4M474.26 457.6v-6.4M474.26 7.6v6.4M509.74 457.6v-6.4M509.74 7.6v6.4M545.22 457.6v-6.4M545.22 7.6v6.4M580.70 457.6v-6.4M580.70 7.6v6.4M616.18 457.6v-6.4M616.18 7.6v6.4M651.66 457.6v-6.4M651.66 7.6v6.4M687.14 457.6v-6.4M687.14 7.6v6.4M44.5 457.60h6.4M687.2 457.60h-6.4M44.5 412.60h6.4M687.2 412.60h-6.4M44.5 367.60h6.4M687.2 367.60h-6.4M44.5 322.60h6.4M687.2 322.60h-6.4M44.5 277.60h6.4M687.2 277.60h-6.4M44.5 232.60h6.4M687.2 232.60h-6.4M44.5 187.60h6.4M687.2 187.60h-6.4M44.5 142.60h6.4M687.2 142.60h-6.4M44.5 97.60h6.4M687.2 97.60h-6.4M44.5 52.60h6.4M687.2 52.60h-6.4M44.5 7.60h6.4M687.2 7.60h-6.4" stroke="#262626" stroke-width="1" fill="none"/>
<text transform="translate(48.50,477.6) scale(1.0,1)" font-size="14.3" text-anchor="middle">-100</text>
<text transform="translate(83.98,477.6) scale(1.0,1)" font-size="14.3" text-anchor="middle">-90</text>
<text transform="translate(119.46,477.6) scale(1.0,1)" font-size="14.3" text-anchor="middle">-80</text>
<text transform="translate(154.94,477.6) scale(1.0,1)" font-size="14.3" text-anchor="middle">-70</text>
<text transform="translate(190.42,477.6) scale(1.0,1)" font-size="14.3" text-anchor="middle">-60</text>
<text transform="translate(225.90,477.6) scale(1.0,1)" font-size="14.3" text-anchor="middle">-50</text>
<text transform="translate(261.38,477.6) scale(1.0,1)" font-size="14.3" text-anchor="middle">-40</text>
<text transform="translate(296.86,477.6) scale(1.0,1)" font-size="14.3" text-anchor="middle">-30</text>
<text transform="translate(332.34,477.6) scale(1.0,1)" font-size="14.3" text-anchor="middle">-20</text>
<text transform="translate(367.82,477.6) scale(1.0,1)" font-size="14.3" text-anchor="middle">-10</text>
<text transform="translate(403.30,477.6) scale(1.0,1)" font-size="14.3" text-anchor="middle">0</text>
<text transform="translate(438.78,477.6) scale(1.0,1)" font-size="14.3" text-anchor="middle">10</text>
<text transform="translate(474.26,477.6) scale(1.0,1)" font-size="14.3" text-anchor="middle">20</text>
<text transform="translate(509.74,477.6) scale(1.0,1)" font-size="14.3" text-anchor="middle">30</text>
<text transform="translate(545.22,477.6) scale(1.0,1)" font-size="14.3" text-anchor="middle">40</text>
<text transform="translate(580.70,477.6) scale(1.0,1)" font-size="14.3" text-anchor="middle">50</text>
<text transform="translate(616.18,477.6) scale(1.0,1)" font-size="14.3" text-anchor="middle">60</text>
<text transform="translate(651.66,477.6) scale(1.0,1)" font-size="14.3" text-anchor="middle">70</text>
<text transform="translate(687.14,477.6) scale(1.0,1)" font-size="14.3" text-anchor="middle">80</text>
<text transform="translate(39.6,462.80) scale(1.0,1)" font-size="14.3" text-anchor="end">0</text>
<text transform="translate(39.6,417.80) scale(1.0,1)" font-size="14.3" text-anchor="end">0.1</text>
<text transform="translate(39.6,372.80) scale(1.0,1)" font-size="14.3" text-anchor="end">0.2</text>
<text transform="translate(39.6,327.80) scale(1.0,1)" font-size="14.3" text-anchor="end">0.3</text>
<text transform="translate(39.6,282.80) scale(1.0,1)" font-size="14.3" text-anchor="end">0.4</text>
<text transform="translate(39.6,237.80) scale(1.0,1)" font-size="14.3" text-anchor="end">0.5</text>
<text transform="translate(39.6,192.80) scale(1.0,1)" font-size="14.3" text-anchor="end">0.6</text>
<text transform="translate(39.6,147.80) scale(1.0,1)" font-size="14.3" text-anchor="end">0.7</text>
<text transform="translate(39.6,102.80) scale(1.0,1)" font-size="14.3" text-anchor="end">0.8</text>
<text transform="translate(39.6,57.80) scale(1.0,1)" font-size="14.3" text-anchor="end">0.9</text>
<text transform="translate(39.6,12.80) scale(1.0,1)" font-size="14.3" text-anchor="end">1</text>
<text class="serif" transform="translate(366.2,494.5) scale(1.075,1)" font-size="16" text-anchor="middle">Time <tspan font-style="italic">t</tspan> [s]</text>
<text class="serif" transform="translate(11.5,233.3) rotate(-90) scale(1.19,1.05)" font-size="15" text-anchor="middle">Normalized max Magnitude <tspan font-style="italic" dx="2.2">M</tspan><tspan font-style="italic" font-size="11" dy="3">norm</tspan></text>
<rect x="488.5" y="13.6" width="192.8" height="57.4" fill="#fff" stroke="#3a3a3a" stroke-width="1"/>
<rect x="490.5" y="18" width="22" height="12.5" fill="#d9d9d9" stroke="#111" stroke-width="1"/>
<text transform="translate(514.6,29.9) scale(1.085,1)" font-size="13.5">SD(all successful FFCF)</text>
<line x1="490.5" y1="42.6" x2="512.5" y2="42.6" stroke="#3439ae" stroke-width="1.7"/>
<path d="M498.9 42.6h5.2M501.5 40.0v5.2M499.68 40.78l3.6399999999999997 3.6399999999999997M499.68 44.42l3.6399999999999997 -3.6399999999999997" stroke="#3439ae" stroke-width="1" fill="none"/>
<text transform="translate(514.6,48.0) scale(1.085,1)" font-size="13.5">Avg(all successful FFCF)</text>
<line x1="490.5" y1="60.5" x2="512.5" y2="60.5" stroke="#dc2a1c" stroke-width="1.7"/>
<text transform="translate(514.6,66.2) scale(1.085,1)" font-size="13.5">failed FFCF (#8)</text>
</svg></body></html>
